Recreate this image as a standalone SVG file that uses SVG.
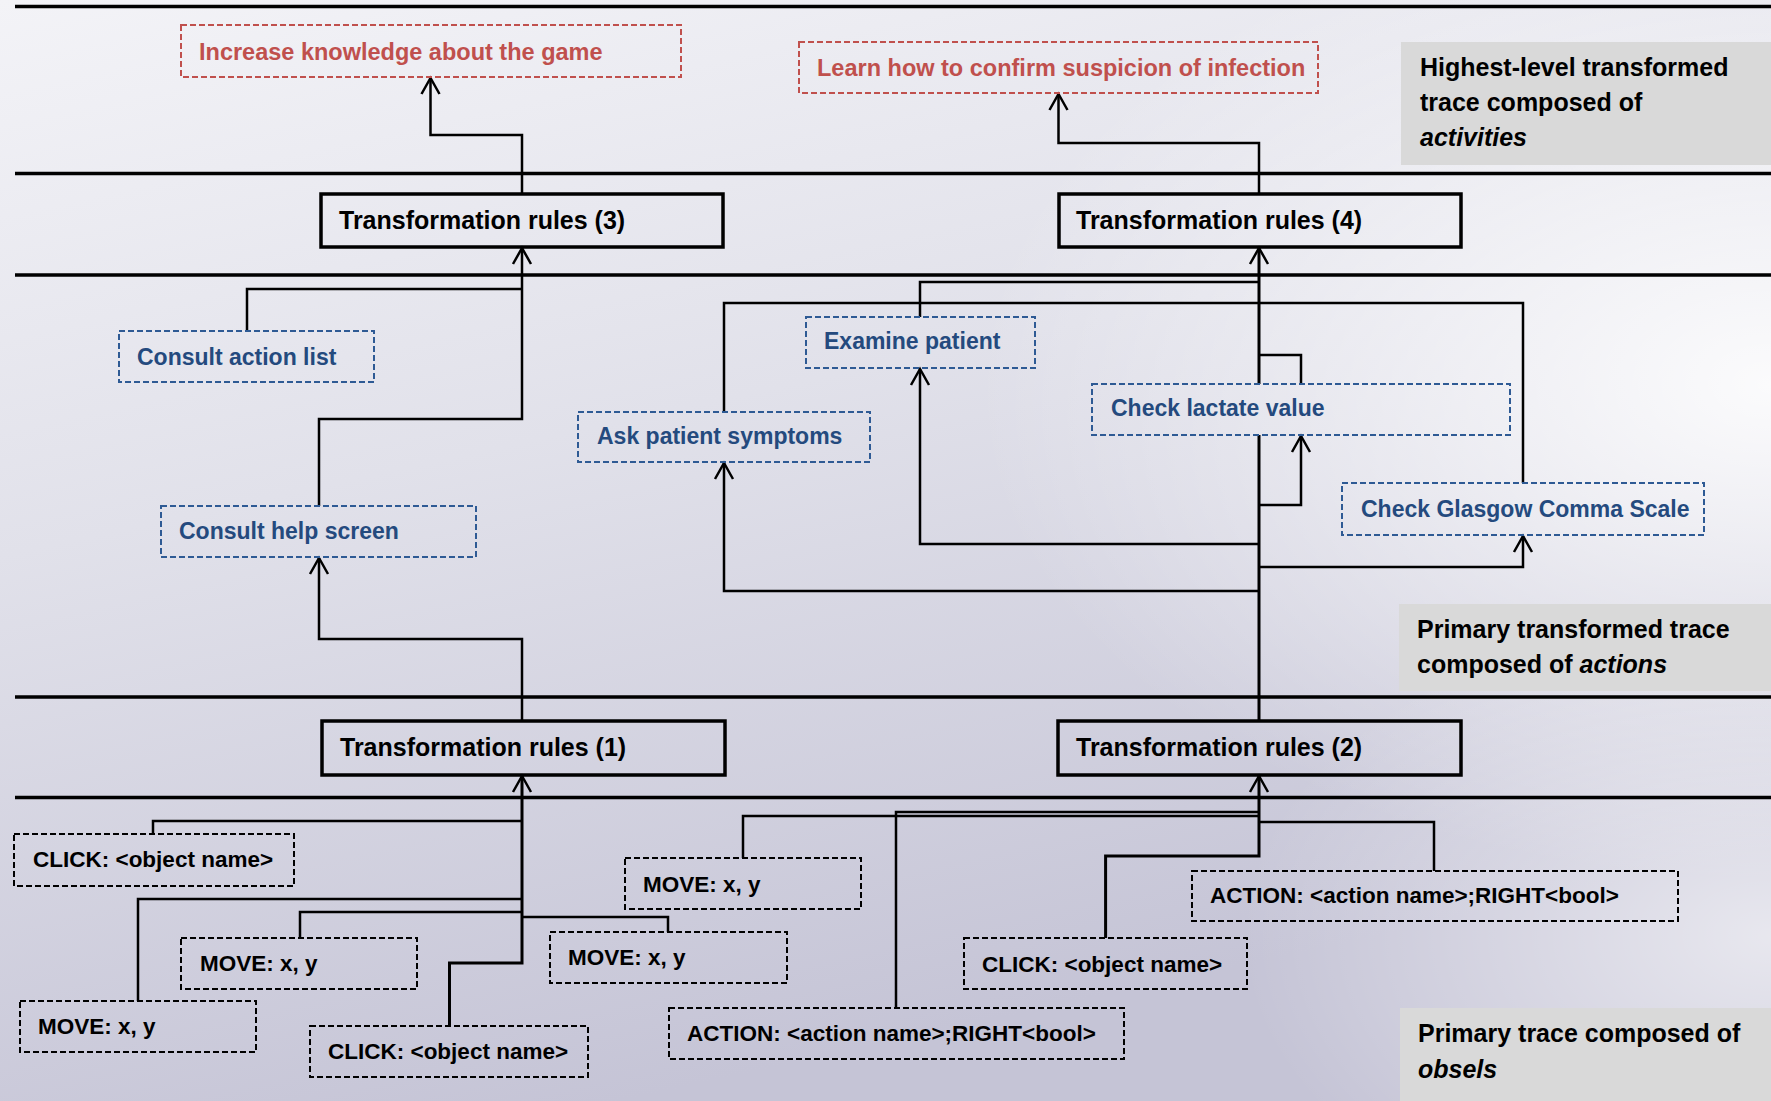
<svg xmlns="http://www.w3.org/2000/svg" width="1771" height="1101" viewBox="0 0 1771 1101">
<defs>
<linearGradient id="bg" x1="0" y1="0" x2="0.35" y2="1">
<stop offset="0" stop-color="#f3f3f7"/>
<stop offset="0.45" stop-color="#e1e1ea"/>
<stop offset="1" stop-color="#c5c4d6"/>
</linearGradient>
<radialGradient id="hl" cx="1" cy="0.35" r="0.45">
<stop offset="0" stop-color="#ffffff" stop-opacity="0.9"/>
<stop offset="1" stop-color="#ffffff" stop-opacity="0"/>
</radialGradient>
<radialGradient id="hl2" cx="1" cy="0.85" r="0.3">
<stop offset="0" stop-color="#ffffff" stop-opacity="0.6"/>
<stop offset="1" stop-color="#ffffff" stop-opacity="0"/>
</radialGradient>
<marker id="arr" viewBox="-20 -12 24 24" refX="0" refY="0" markerWidth="24" markerHeight="24" markerUnits="userSpaceOnUse" orient="auto">
<path d="M-16,-9 L0,0 L-16,9" fill="none" stroke="#000" stroke-width="2.5"/>
</marker>
<style>
text{font-family:"Liberation Sans",Arial,sans-serif;font-weight:bold}
.sep{stroke:#000;stroke-width:3.5}
.tr{fill:none;stroke:#000;stroke-width:3.5}
.trt{font-size:25px;fill:#000}
.red{fill:none;stroke:#c0504d;stroke-width:2;stroke-dasharray:6 3}
.redt{font-size:23.5px;fill:#c0504d}
.blue{fill:none;stroke:#2e5a94;stroke-width:2;stroke-dasharray:6 3}
.bluet{font-size:23px;fill:#244a7e}
.obs{fill:none;stroke:#000;stroke-width:2;stroke-dasharray:6 3}
.obst{font-size:22.5px;fill:#000}
.gray{fill:#d9d9d9}
.grayt{font-size:25px;fill:#000}
.c{fill:none;stroke:#000;stroke-width:2.5}
.a{marker-end:url(#arr)}
</style>
</defs>
<rect width="1771" height="1101" fill="url(#bg)"/>
<rect width="1771" height="1101" fill="url(#hl)"/>
<rect width="1771" height="1101" fill="url(#hl2)"/>

<g id="separators">
<line class="sep" x1="15" y1="6.5" x2="1771" y2="6.5"/>
<line class="sep" x1="15" y1="173.5" x2="1771" y2="173.5"/>
<line class="sep" x1="15" y1="275" x2="1771" y2="275"/>
<line class="sep" x1="15" y1="697" x2="1771" y2="697"/>
<line class="sep" x1="15" y1="797.5" x2="1771" y2="797.5"/>
</g>

<g id="labels">
<g id="label-activities"><rect class="gray" x="1401" y="42" width="370" height="123"/>
<text class="grayt" x="1420" y="76">Highest-level transformed</text>
<text class="grayt" x="1420" y="110.5">trace composed of</text>
<text class="grayt" x="1420" y="145.5" font-style="italic">activities</text></g>
<g id="label-actions"><rect class="gray" x="1399" y="604" width="372" height="87"/>
<text class="grayt" x="1417" y="638">Primary transformed trace</text>
<text class="grayt" x="1417" y="672.5">composed of <tspan font-style="italic">actions</tspan></text></g>
<g id="label-obsels"><rect class="gray" x="1400" y="1008" width="371" height="93"/>
<text class="grayt" x="1418" y="1042">Primary trace composed of</text>
<text class="grayt" x="1418" y="1078" font-style="italic">obsels</text></g>
</g>

<g id="connectors">
<path class="c a" d="M522,194 V135 H430.5 V78"/>
<path class="c a" d="M1259,194 V143 H1058.5 V94"/>
<path class="c a" d="M319,506 V419 H522 V248"/>
<path class="c" d="M247,331 V289 H522"/>
<path class="c a" d="M522,721 V639 H319 V558"/>
<path class="c" style="stroke-width:3" d="M1259,721 V435"/>
<path class="c a" style="stroke-width:3" d="M1259,384 V248"/>
<path class="c" d="M724,412 V303 H1523 V483"/>
<path class="c" d="M920,317 V282 H1259"/>
<path class="c" d="M1301,384 V355 H1259"/>
<path class="c a" d="M1259,591 H724 V463"/>
<path class="c a" d="M1259,544 H920 V369"/>
<path class="c a" d="M1259,505 H1301 V436"/>
<path class="c a" d="M1259,567 H1523 V536"/>
<path class="c a" style="stroke-width:3" d="M449.5,1026 V963 H522 V776"/>
<path class="c" d="M153,834 V821 H522"/>
<path class="c" d="M138,1001 V899 H522"/>
<path class="c" d="M300,938 V912 H522"/>
<path class="c" d="M522,917 H668 V932"/>
<path class="c a" style="stroke-width:3" d="M1105.6,938 V856 H1259 V776"/>
<path class="c" d="M743,858 V816 H1259"/>
<path class="c" d="M896,1008 V812 H1259"/>
<path class="c" d="M1434,871 V822 H1259"/>
</g>

<g id="goal-knowledge"><rect class="red" x="181" y="25" width="500" height="52"/>
<text class="redt" x="199" y="60">Increase knowledge about the game</text></g>
<g id="goal-infection"><rect class="red" x="799" y="42" width="519" height="51"/>
<text class="redt" x="817" y="76">Learn how to confirm suspicion of infection</text></g>

<g id="rules-3"><rect class="tr" x="321" y="194" width="402" height="53"/>
<text class="trt" x="339" y="229">Transformation rules (3)</text></g>
<g id="rules-4"><rect class="tr" x="1059" y="194" width="402" height="53"/>
<text class="trt" x="1076" y="229">Transformation rules (4)</text></g>
<g id="rules-1"><rect class="tr" x="322" y="721" width="403" height="54"/>
<text class="trt" x="340" y="756">Transformation rules (1)</text></g>
<g id="rules-2"><rect class="tr" x="1058" y="721" width="403" height="54"/>
<text class="trt" x="1076" y="756">Transformation rules (2)</text></g>

<g id="action-consult-list"><rect class="blue" x="119" y="331" width="255" height="51"/>
<text class="bluet" x="137" y="365">Consult action list</text></g>
<g id="action-consult-help"><rect class="blue" x="161" y="506" width="315" height="51"/>
<text class="bluet" x="179" y="539">Consult help screen</text></g>
<g id="action-ask-symptoms"><rect class="blue" x="578" y="412" width="292" height="50"/>
<text class="bluet" x="597" y="444">Ask patient symptoms</text></g>
<g id="action-examine"><rect class="blue" x="806" y="317" width="229" height="51"/>
<text class="bluet" x="824" y="349">Examine patient</text></g>
<g id="action-lactate"><rect class="blue" x="1092" y="384" width="418" height="51"/>
<text class="bluet" x="1111" y="416">Check lactate value</text></g>
<g id="action-glasgow"><rect class="blue" x="1342" y="483" width="362" height="52"/>
<text class="bluet" x="1361" y="517">Check Glasgow Comma Scale</text></g>

<g id="obsel-click-1"><rect class="obs" x="14" y="834" width="280" height="52"/>
<text class="obst" x="33" y="867">CLICK: &lt;object name&gt;</text></g>
<g id="obsel-move-1"><rect class="obs" x="20" y="1001" width="236" height="51"/>
<text class="obst" x="38" y="1034">MOVE: x, y</text></g>
<g id="obsel-move-2"><rect class="obs" x="181" y="938" width="236" height="51"/>
<text class="obst" x="200" y="971">MOVE: x, y</text></g>
<g id="obsel-click-2"><rect class="obs" x="310" y="1026" width="278" height="51"/>
<text class="obst" x="328" y="1059">CLICK: &lt;object name&gt;</text></g>
<g id="obsel-move-3"><rect class="obs" x="550" y="932" width="237" height="51"/>
<text class="obst" x="568" y="965">MOVE: x, y</text></g>
<g id="obsel-move-4"><rect class="obs" x="625" y="858" width="236" height="51"/>
<text class="obst" x="643" y="892">MOVE: x, y</text></g>
<g id="obsel-action-1"><rect class="obs" x="669" y="1008" width="455" height="51"/>
<text class="obst" x="687" y="1041">ACTION: &lt;action name&gt;;RIGHT&lt;bool&gt;</text></g>
<g id="obsel-click-3"><rect class="obs" x="964" y="938" width="283" height="51"/>
<text class="obst" x="982" y="972">CLICK: &lt;object name&gt;</text></g>
<g id="obsel-action-2"><rect class="obs" x="1192" y="871" width="486" height="50"/>
<text class="obst" x="1210" y="903">ACTION: &lt;action name&gt;;RIGHT&lt;bool&gt;</text></g>
</svg>
